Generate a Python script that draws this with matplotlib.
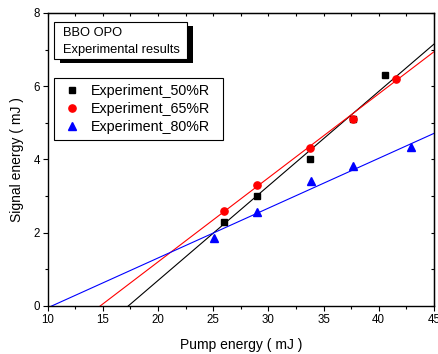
import numpy as np
import matplotlib
matplotlib.use("Agg")
import matplotlib.pyplot as plt
from matplotlib.patches import Rectangle
from matplotlib.lines import Line2D

plt.rcParams['font.family'] = ['Liberation Sans', 'DejaVu Sans']

# measured points (pump energy, signal energy), mJ
pump_50 = [26.0, 28.95, 33.8, 37.65, 40.55]
signal_50 = [2.30, 3.00, 4.00, 5.10, 6.30]
pump_65 = [26.0, 28.95, 33.8, 37.65, 41.6]
signal_65 = [2.60, 3.30, 4.32, 5.10, 6.19]
pump_80 = [25.1, 28.95, 33.9, 37.65, 42.9]
signal_80 = [1.87, 2.57, 3.41, 3.83, 4.35]

# linear fits y = a + b*x
fit_a = [-4.463, -3.384, -1.409]
fit_b = [0.258, 0.2294, 0.136]
fit_colors = ['black', 'red', 'blue']
labels = ['Experiment_50%R', 'Experiment_65%R', 'Experiment_80%R']

fig = plt.figure(figsize=(4.39, 3.54), dpi=100)
ax = fig.add_axes([0.1087, 0.1356, 0.8795, 0.8277])

xs = np.array([10.0, 45.0])
for a, b, c in zip(fit_a, fit_b, fit_colors):
    ax.plot(xs, a + b * xs, color=c, lw=0.8, zorder=2)

ax.plot(pump_50, signal_50, ls='none', marker='s', ms=4.7, color='black', zorder=3)
ax.plot(pump_65, signal_65, ls='none', marker='o', ms=5.2, color='red', zorder=4)
ax.plot(pump_80, signal_80, ls='none', marker='^', ms=5.7, color='blue', zorder=3)

ax.set_xlim(10, 45)
ax.set_ylim(0, 8)
ax.set_xticks(np.arange(10, 46, 5))
ax.set_xticks(np.arange(12.5, 45, 5), minor=True)
ax.set_yticks(np.arange(0, 9, 2))
ax.set_yticks(np.arange(1, 8, 2), minor=True)
ax.tick_params(which='major', direction='out', length=3.5, width=0.8, labelsize=8.3, pad=2)
ax.tick_params(which='minor', direction='out', length=2, width=0.8)
for s in ax.spines.values():
    s.set_linewidth(1.0)

# top/right ticks point inwards
top = ax.secondary_xaxis('top')
top.set_xticks(np.arange(10, 46, 2.5))
top.tick_params(direction='in', length=2.5, width=0.8, labeltop=False)
right = ax.secondary_yaxis('right')
right.set_yticks(np.arange(0, 9, 1))
right.tick_params(direction='in', length=2.5, width=0.8, labelright=False)

ax.set_xlabel('Pump energy ( mJ )', fontsize=10, labelpad=9)
ax.set_ylabel('Signal energy ( mJ )', fontsize=10, labelpad=7)

# title box with drop shadow
ax.add_patch(Rectangle((0.0171 + 0.014, 0.842 - 0.0137), 0.3443, 0.1283,
                       transform=ax.transAxes, facecolor='black',
                       edgecolor='black', lw=0, zorder=5))
ax.add_patch(Rectangle((0.0171, 0.842), 0.3443, 0.1283,
                       transform=ax.transAxes, facecolor='white',
                       edgecolor='black', lw=0.8, zorder=6))
ax.text(0.0396, 0.933, 'BBO OPO', transform=ax.transAxes,
        fontsize=9.3, va='center', zorder=7)
ax.text(0.0396, 0.875, 'Experimental results', transform=ax.transAxes,
        fontsize=9.3, va='center', zorder=7)

handles = [Line2D([], [], ls='none', marker='s', ms=4.7, color='black'),
           Line2D([], [], ls='none', marker='o', ms=5.2, color='red'),
           Line2D([], [], ls='none', marker='^', ms=5.7, color='blue')]
leg = ax.legend(handles, labels, loc='upper left',
                bbox_to_anchor=(0.0171, 0.579, 0.436, 0.2), mode='expand',
                borderaxespad=0, fontsize=10.3, frameon=True, fancybox=False,
                edgecolor='black', framealpha=1, borderpad=0.42,
                handlelength=1.6, handletextpad=0.55, labelspacing=0.28)
leg.get_frame().set_linewidth(0.8)
leg.set_zorder(7)

fig.savefig('out.png', dpi=100)
